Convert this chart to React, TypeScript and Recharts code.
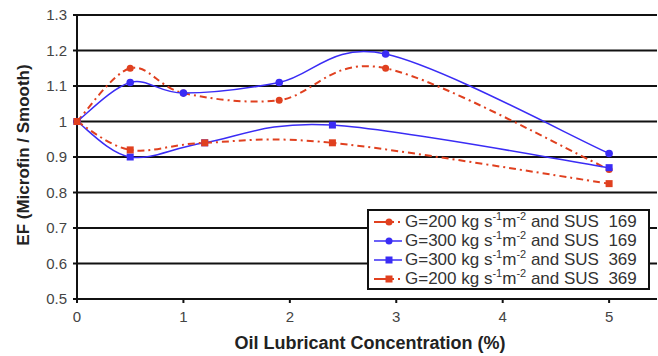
import React from 'react';
import { LineChart, Line, XAxis, YAxis, CartesianGrid } from 'recharts';

const xTicks = [0, 1, 2, 3, 4, 5];
const yTicks = [0.5, 0.6, 0.7, 0.8, 0.9, 1.0, 1.1, 1.2, 1.3];

const g200sus169 = [
  { x: 0, y: 1.0 },
  { x: 0.5, y: 1.15 },
  { x: 1.0, y: 1.08 },
  { x: 1.9, y: 1.06 },
  { x: 2.9, y: 1.15 },
  { x: 5, y: 0.865 },
];
const g300sus169 = [
  { x: 0, y: 1.0 },
  { x: 0.5, y: 1.11 },
  { x: 1.0, y: 1.08 },
  { x: 1.9, y: 1.11 },
  { x: 2.9, y: 1.19 },
  { x: 5, y: 0.91 },
];
const g300sus369 = [
  { x: 0, y: 1.0 },
  { x: 0.5, y: 0.9 },
  { x: 1.2, y: 0.94 },
  { x: 2.4, y: 0.99 },
  { x: 5, y: 0.87 },
];
const g200sus369 = [
  { x: 0, y: 1.0 },
  { x: 0.5, y: 0.92 },
  { x: 1.2, y: 0.94 },
  { x: 2.4, y: 0.94 },
  { x: 5, y: 0.825 },
];

const RED = '#e0401f';
const BLUE = '#3a2cf5';
const DASH = '7 4 2 4';

function catmull(context: any) {
  let pts: number[][] = [];
  return {
    areaStart() {},
    areaEnd() {},
    lineStart() {
      pts = [];
    },
    lineEnd() {
      const n = pts.length;
      if (!n) return;
      context.moveTo(pts[0][0], pts[0][1]);
      const t = 1 / 6;
      for (let i = 0; i < n - 1; i++) {
        const p0 = pts[i - 1] || pts[i];
        const p1 = pts[i];
        const p2 = pts[i + 1];
        const p3 = pts[i + 2] || pts[i + 1];
        context.bezierCurveTo(
          p1[0] + (p2[0] - p0[0]) * t,
          p1[1] + (p2[1] - p0[1]) * t,
          p2[0] - (p3[0] - p1[0]) * t,
          p2[1] - (p3[1] - p1[1]) * t,
          p2[0],
          p2[1]
        );
      }
    },
    point(x: number, y: number) {
      pts.push([+x, +y]);
    },
  };
}

const circleDot = (color: string, r: number, skip: number[] = []) => (props: any) => {
  const { cx, cy, index, payload } = props;
  if (payload && skip.includes(payload.x)) return <g key={index} />;
  return <circle key={index} cx={cx} cy={cy} r={r} fill={color} stroke="none" />;
};
const squareDot = (color: string, s: number, skip: number[] = []) => (props: any) => {
  const { cx, cy, index, payload } = props;
  if (payload && skip.includes(payload.x)) return <g key={index} />;
  return <rect key={index} x={cx - s / 2} y={cy - s / 2} width={s} height={s} fill={color} stroke="none" />;
};

const legendItems = [
  { g: '200', sus: '169', color: RED, dashed: true, marker: 'circle' },
  { g: '300', sus: '169', color: BLUE, dashed: false, marker: 'circle' },
  { g: '300', sus: '369', color: BLUE, dashed: false, marker: 'square' },
  { g: '200', sus: '369', color: RED, dashed: true, marker: 'square' },
];

const font = '"Liberation Sans", Arial, sans-serif';
const supStyle: React.CSSProperties = { fontSize: 11, verticalAlign: 'super', lineHeight: 0 };

export default function App() {
  return (
    <div style={{ position: 'absolute', left: 0, top: 0, width: 658, height: 356, background: '#fff' }}>
      <LineChart width={658} height={356} margin={{ top: 15, right: 1, bottom: 27, left: 0 }}>
        <CartesianGrid vertical={false} stroke="#111" strokeWidth={2} horizontalValues={yTicks} />
        <XAxis
          type="number"
          dataKey="x"
          domain={[0, 5.45]}
          ticks={xTicks}
          height={30}
          tickSize={4}
          tickMargin={8}
          axisLine={{ stroke: '#111', strokeWidth: 2 }}
          tickLine={{ stroke: '#111', strokeWidth: 2 }}
          tick={{ fill: '#444', fontSize: 15, fontFamily: font }}
          label={{
            content: () => (
              <text x={370} y={349} textAnchor="middle" fontFamily={font} fontWeight="bold" fontSize={18} fill="#222">
                Oil Lubricant Concentration (%)
              </text>
            ),
          }}
        />
        <YAxis
          type="number"
          domain={[0.5, 1.3]}
          ticks={yTicks}
          width={77}
          tickSize={4}
          tickMargin={6}
          interval={0}
          tickFormatter={(v: number) => (Math.abs(v - 1) < 1e-9 ? '1' : v.toFixed(1))}
          axisLine={{ stroke: '#111', strokeWidth: 2 }}
          tickLine={{ stroke: '#111', strokeWidth: 2 }}
          tick={{ fill: '#444', fontSize: 15, fontFamily: font }}
          label={{
            content: () => (
              <text
                x={29}
                y={155}
                transform="rotate(-90 29 155)"
                textAnchor="middle"
                fontFamily={font}
                fontWeight="bold"
                fontSize={17}
                fill="#222"
              >
                EF (Microfin / Smooth)
              </text>
            ),
          }}
        />
        <Line
          data={g200sus169}
          dataKey="y"
          type={catmull as any}
          stroke={RED}
          strokeWidth={2}
          strokeDasharray={DASH}
          dot={circleDot(RED, 3.5)}
          activeDot={false}
          isAnimationActive={false}
        />
        <Line
          data={g300sus169}
          dataKey="y"
          type={catmull as any}
          stroke={BLUE}
          strokeWidth={1.5}
          dot={circleDot(BLUE, 3.8)}
          activeDot={false}
          isAnimationActive={false}
        />
        <Line
          data={g300sus369}
          dataKey="y"
          type={catmull as any}
          stroke={BLUE}
          strokeWidth={1.5}
          dot={squareDot(BLUE, 7)}
          activeDot={false}
          isAnimationActive={false}
        />
        <Line
          data={g200sus369}
          dataKey="y"
          type={catmull as any}
          stroke={RED}
          strokeWidth={2}
          strokeDasharray={DASH}
          dot={squareDot(RED, 7)}
          activeDot={false}
          isAnimationActive={false}
        />
      </LineChart>
      <div
        style={{
          position: 'absolute',
          left: 367,
          top: 209,
          width: 275,
          height: 76,
          border: '2px solid #111',
          background: '#fff',
          fontFamily: font,
          fontSize: 17,
          color: '#333',
          padding: '1px 0 0 4px',
          boxSizing: 'content-box',
        }}
      >
        {legendItems.map((it, i) => (
          <div key={i} style={{ display: 'flex', alignItems: 'center', height: 19, whiteSpace: 'nowrap' }}>
            <svg width={32} height={19} style={{ flex: 'none' }}>
              <line
                x1={1}
                y1={10}
                x2={29}
                y2={10}
                stroke={it.color}
                strokeWidth={it.dashed ? 2 : 1.5}
                strokeDasharray={it.dashed ? '20 4 2 10' : undefined}
              />
              {it.marker === 'circle' ? (
                <circle cx={16} cy={10} r={3.5} fill={it.color} />
              ) : (
                <rect x={12.5} y={6.5} width={7} height={7} fill={it.color} />
              )}
            </svg>
            <span>
              G={it.g} kg s<sup style={supStyle}>-1</sup>m<sup style={supStyle}>-2</sup> and SUS {'\u00a0'}
              {it.sus}
            </span>
          </div>
        ))}
      </div>
    </div>
  );
}
